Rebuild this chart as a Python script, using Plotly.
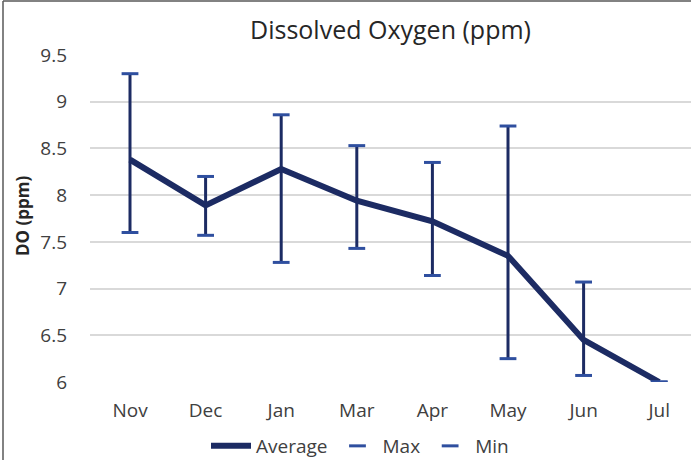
import plotly.graph_objects as go

months = ["Nov", "Dec", "Jan", "Mar", "Apr", "May", "Jun", "Jul"]
average = [8.38, 7.89, 8.28, 7.94, 7.72, 7.35, 6.45, 6.0]
max_do = [9.30, 8.20, 8.86, 8.53, 8.35, 8.74, 7.07, 6.0]
min_do = [7.60, 7.57, 7.28, 7.43, 7.14, 6.25, 6.07, 6.0]
yticks = [6, 6.5, 7, 7.5, 8, 8.5, 9, 9.5]
ytick_text = ["6", "6.5", "7", "7.5", "8", "8.5", "9", "9.5"]

NAVY = "#1c2b63"
BLUE = "#2f4f9f"
FONT = "Open Sans"

W, H = 691, 460
L, R, T, B = 90, 0, 55, 78
pw = W - L - R
ph = H - T - B

err_plus = [mx - a for mx, a in zip(max_do, average)]
err_minus = [a - mn for mn, a in zip(min_do, average)]

fig = go.Figure()
fig.add_trace(go.Scatter(
    x=months, y=average, name="Average", mode="lines",
    line=dict(color=NAVY, width=6),
    error_y=dict(type="data", symmetric=False, array=err_plus, arrayminus=err_minus,
                 color=NAVY, thickness=3, width=0),
))
fig.add_trace(go.Scatter(
    x=months, y=max_do, name="Max", mode="markers",
    marker=dict(symbol="line-ew-open", size=12, color=BLUE, line=dict(color=BLUE, width=3)),
))
fig.add_trace(go.Scatter(
    x=months, y=min_do, name="Min", mode="markers",
    marker=dict(symbol="line-ew-open", size=12, color=BLUE, line=dict(color=BLUE, width=3)),
))

def px_x(px):
    return (px - L) / pw

def px_y(py):
    return (H - B - py) / ph

step = 75.6
nov_px = 130
fig.update_layout(
    width=W, height=H,
    margin=dict(l=L, r=R, t=T, b=B, autoexpand=False),
    paper_bgcolor="white", plot_bgcolor="white",
    font=dict(family=FONT, color="#404040", size=19),
    showlegend=True,
    title=dict(text="Dissolved Oxygen (ppm)", x=0.5, xref="paper", xanchor="center",
               y=1 - 30 / H, yref="container", yanchor="middle",
               font=dict(family=FONT, size=25, color="#262626")),
    xaxis=dict(
        type="category", categoryorder="array", categoryarray=months,
        range=[-(nov_px - L) / step, 7 + (W - (nov_px + 7 * step)) / step],
        showgrid=False, zeroline=False, showline=False, ticks="",
        automargin=False,
        ticklabelstandoff=15, tickfont=dict(size=19, color="#404040"),
    ),
    yaxis=dict(
        range=[6, 9.5], tickvals=yticks, ticktext=ytick_text,
        showgrid=True, gridcolor="#d9d9d9", gridwidth=2,
        zeroline=False, showline=False, ticks="",
        automargin=False,
        ticklabelstandoff=22, tickfont=dict(size=19, color="#404040"),
    ),
    legend=dict(orientation="h", x=px_x(360), xanchor="center",
                y=1 - 446 / H, yref="container", yanchor="middle",
                font=dict(size=19, color="#404040"),
                itemwidth=40, tracegroupgap=0,
                bgcolor="rgba(0,0,0,0)"),
    annotations=[dict(text="<b>DO (ppm)</b>", textangle=-90, xref="paper", yref="paper",
                      x=px_x(22), y=px_y(216), showarrow=False,
                      xanchor="center", yanchor="middle",
                      font=dict(family=FONT, size=17, color="#262626"))],
    shapes=[
        dict(type="line", xref="paper", yref="paper",
             x0=px_x(3), x1=px_x(3), y0=px_y(H), y1=px_y(1),
             line=dict(color="#595959", width=1.5)),
        dict(type="line", xref="paper", yref="paper",
             x0=px_x(3), x1=px_x(W), y0=px_y(1), y1=px_y(1),
             line=dict(color="#595959", width=1.5)),
    ],
)

fig.write_html("out.html", config={"displayModeBar": False},
               post_script="document.body.style.margin='0px';")
